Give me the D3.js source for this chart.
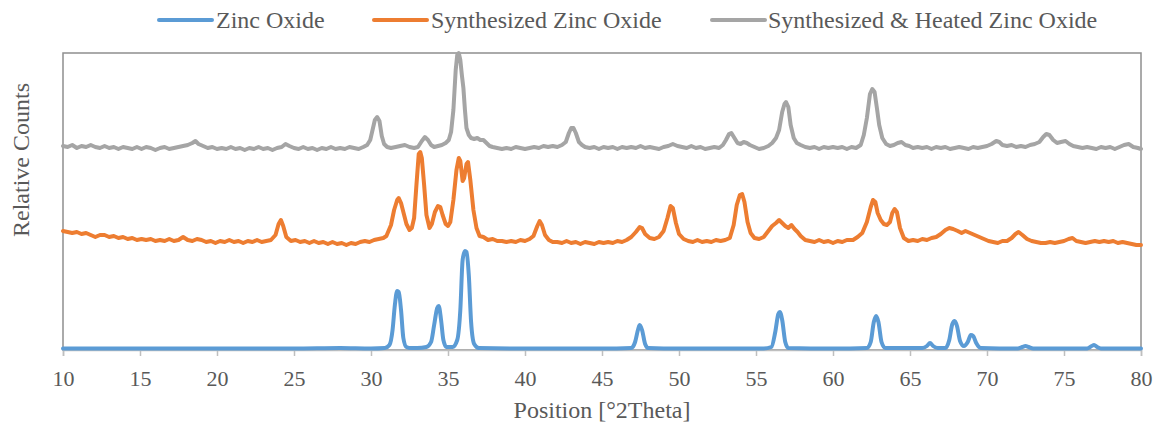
<!DOCTYPE html>
<html>
<head>
<meta charset="utf-8">
<script src="https://cdn.jsdelivr.net/npm/d3@7"></script>
<style>
  html, body { margin: 0; padding: 0; background: #fff; }
  svg { display: block; }
  text { font-family: "Liberation Serif", "Times New Roman", serif; fill: #595959; }
</style>
</head>
<body>
<svg id="chart" width="1160" height="423"></svg>
<script>
// ---- Data ----
const seriesNames = ["Zinc Oxide", "Synthesized Zinc Oxide", "Synthesized & Heated Zinc Oxide"];
const xTicks = [10, 15, 20, 25, 30, 35, 40, 45, 50, 55, 60, 65, 70, 75, 80];
const xDomain = [10, 80];
const yDomain = [0, 297];

// [2Theta, relative counts]
const zincOxide = [
  [10,1.5],[15,1.5],[20,1.5],[25,1.5],[28,2],[30,1.5],[30.9,2],[31.2,5],[31.4,20],[31.55,45],[31.7,59],[31.8,58],[31.95,40],[32.1,12],[32.3,3],[32.6,2],
  [33.0,2],[33.6,3],[33.9,8],[34.1,25],[34.3,42],[34.4,44],[34.55,30],[34.7,10],[34.9,3],[35.3,3],[35.6,10],[35.8,40],[35.95,90],[36.1,99],[36.2,98],
  [36.35,75],[36.5,28],[36.7,6],[37.0,2],[40,1.5],[45,1.5],[46.9,2],[47.15,8],[47.35,21],[47.45,25],[47.6,20],[47.8,6],[48.0,2],[50,1.5],[55.5,1.5],
  [56.0,3],[56.25,18],[56.45,36],[56.55,38],[56.7,30],[56.9,8],[57.1,2],[60,1.5],[62.2,2],[62.45,8],[62.65,28],[62.8,34],[62.95,28],[63.15,8],[63.4,2],
  [65.8,2],[66.1,4],[66.3,7],[66.5,4],[66.8,2],[67.3,2],[67.55,10],[67.75,26],[67.9,29],[68.05,24],[68.25,9],[68.5,4],[68.75,8],[68.95,15],[69.1,14],
  [69.3,7],[69.6,2],[72.0,1.5],[72.3,3],[72.5,4],[72.7,3],[73.0,1.5],[76.5,1.5],[76.8,4],[76.95,5],[77.15,3],[77.4,1.5],[80,1.5]
];

const synthesizedZincOxide = [
  [10,119],[10.3,118],[10.6,117],[10.9,118],[11.2,116],[11.5,117],[11.8,115],[12.1,113],[12.4,115],[12.7,115],[13.0,113],[13.3,114],[13.6,112],[13.9,113],
  [14.2,111],[14.5,112],[14.8,110],[15.1,111],[15.4,110],[15.7,111],[16.0,109],[16.3,110],[16.6,109],[16.9,111],[17.2,109],[17.5,110],[17.8,113],[18.1,110],
  [18.4,109],[18.7,111],[19.0,110],[19.3,108],[19.6,109],[19.9,107],[20.2,109],[20.5,108],[20.8,110],[21.1,108],[21.4,109],[21.7,107],[22.0,109],[22.3,108],
  [22.6,110],[22.9,108],[23.2,109],[23.5,110],[23.8,115],[24.0,126],[24.15,130],[24.3,124],[24.5,113],[24.8,109],[25.1,110],[25.4,108],[25.7,109],[26.0,107],
  [26.3,109],[26.6,107],[26.9,108],[27.2,106],[27.5,108],[27.8,106],[28.1,107],[28.4,105],[28.7,107],[29.0,106],[29.3,108],[29.6,109],[29.9,108],[30.2,110],
  [30.5,111],[30.8,112],[31.0,114],[31.3,125],[31.5,140],[31.7,150],[31.8,152],[31.95,147],[32.1,138],[32.3,126],[32.5,120],[32.65,122],[32.8,132],[32.95,165],
  [33.1,196],[33.2,198],[33.3,192],[33.45,165],[33.6,135],[33.8,122],[33.95,126],[34.15,138],[34.35,144],[34.5,143],[34.65,135],[34.85,126],[35.0,124],
  [35.15,128],[35.35,150],[35.55,180],[35.7,192],[35.8,189],[35.95,169],[36.05,172],[36.2,186],[36.3,188],[36.45,170],[36.65,140],[36.85,122],[37.05,114],
  [37.3,113],[37.6,110],[37.9,111],[38.2,109],[38.5,109],[38.8,108],[39.1,109],[39.4,108],[39.7,110],[40.0,109],[40.3,111],[40.55,114],[40.8,124],[40.95,129],
  [41.1,125],[41.3,115],[41.55,110],[41.8,108],[42.1,108],[42.4,107],[42.7,109],[43.0,107],[43.3,108],[43.6,106],[43.9,108],[44.2,107],[44.5,106],[44.8,108],
  [45.1,107],[45.4,108],[45.7,107],[46.0,109],[46.3,108],[46.6,110],[46.9,113],[47.2,118],[47.45,123],[47.6,122],[47.8,116],[48.1,112],[48.4,111],[48.7,113],
  [49.0,119],[49.25,132],[49.45,144],[49.6,142],[49.8,127],[50.0,116],[50.3,111],[50.6,109],[50.9,108],[51.2,110],[51.5,108],[51.8,109],[52.1,108],[52.4,110],
  [52.7,109],[53.0,110],[53.3,112],[53.55,125],[53.75,145],[53.95,155],[54.1,156],[54.25,148],[54.45,128],[54.65,117],[54.9,112],[55.2,111],[55.5,113],
  [55.8,119],[56.05,124],[56.3,127],[56.5,130],[56.7,127],[56.9,124],[57.1,122],[57.3,125],[57.5,121],[57.7,118],[57.9,114],[58.2,110],[58.5,109],[58.8,108],
  [59.1,110],[59.4,108],[59.7,109],[60.0,107],[60.3,109],[60.6,108],[60.9,110],[61.3,110],[61.6,113],[61.9,117],[62.2,128],[62.45,143],[62.6,150],[62.75,148],
  [62.9,137],[63.1,130],[63.3,126],[63.5,125],[63.7,128],[63.85,137],[64.0,141],[64.15,138],[64.35,122],[64.6,112],[64.9,109],[65.2,110],[65.5,109],
  [65.8,111],[66.1,110],[66.4,112],[66.7,113],[67.0,116],[67.3,120],[67.55,122],[67.8,121],[68.1,119],[68.35,117],[68.6,119],[68.9,117],[69.2,115],
  [69.5,113],[69.8,111],[70.1,109],[70.4,108],[70.7,107],[71.0,109],[71.3,109],[71.6,112],[71.85,116],[72.05,118],[72.3,115],[72.6,111],[72.9,109],
  [73.2,108],[73.5,107],[73.8,107],[74.1,108],[74.4,107],[74.7,108],[75.0,109],[75.3,111],[75.55,112],[75.8,109],[76.1,108],[76.4,107],[76.7,108],
  [77.0,109],[77.3,108],[77.6,109],[77.9,108],[78.2,109],[78.5,107],[78.8,108],[79.1,107],[79.4,106],[79.7,105],[80.0,105]
];

const synthesizedHeatedZincOxide = [
  [10,204],[10.3,203],[10.6,205],[10.9,202],[11.2,204],[11.5,203],[11.8,205],[12.1,203],[12.4,202],[12.7,204],[13.0,202],[13.3,203],[13.6,201],[13.9,203],
  [14.2,202],[14.5,201],[14.8,203],[15.1,201],[15.4,203],[15.7,202],[16.0,200],[16.3,202],[16.6,203],[16.9,201],[17.2,202],[17.5,203],[17.8,204],[18.1,205],
  [18.4,207],[18.6,209],[18.8,206],[19.1,204],[19.4,202],[19.7,203],[20.0,201],[20.3,202],[20.6,201],[20.9,203],[21.2,201],[21.5,202],[21.8,200],[22.1,202],
  [22.4,201],[22.7,203],[23.0,201],[23.3,202],[23.6,200],[23.9,202],[24.2,203],[24.45,206],[24.7,204],[25.0,202],[25.3,201],[25.6,203],[25.9,201],[26.2,202],
  [26.5,200],[26.8,202],[27.1,201],[27.4,203],[27.7,201],[28.0,202],[28.3,201],[28.6,203],[28.9,202],[29.2,201],[29.5,203],[29.75,205],[29.95,210],
  [30.1,220],[30.25,230],[30.4,233],[30.55,229],[30.7,214],[30.85,206],[31.05,203],[31.3,202],[31.6,203],[31.9,204],[32.2,205],[32.5,203],[32.8,202],
  [33.05,203],[33.3,209],[33.5,213],[33.7,210],[33.9,205],[34.1,203],[34.35,204],[34.6,205],[34.85,207],[35.05,210],[35.2,218],[35.35,240],[35.5,280],
  [35.6,295],[35.7,297],[35.8,290],[35.9,275],[36.0,262],[36.1,240],[36.2,222],[36.35,215],[36.5,212],[36.7,211],[36.9,212],[37.1,210],[37.3,210],
  [37.5,207],[37.7,204],[37.9,203],[38.2,202],[38.5,201],[38.8,202],[39.1,201],[39.4,203],[39.7,202],[40.0,201],[40.3,202],[40.6,203],[40.9,202],[41.2,204],
  [41.5,203],[41.8,204],[42.1,203],[42.4,205],[42.65,208],[42.85,217],[43.0,222],[43.15,222],[43.3,217],[43.5,208],[43.7,205],[43.9,203],[44.2,202],
  [44.5,203],[44.8,201],[45.1,203],[45.4,202],[45.7,203],[46.0,201],[46.3,203],[46.6,202],[46.9,203],[47.2,202],[47.5,204],[47.8,202],[48.1,203],[48.4,202],
  [48.7,201],[49.0,203],[49.3,204],[49.6,206],[49.9,204],[50.2,203],[50.5,202],[50.8,204],[51.1,202],[51.4,203],[51.7,201],[52.0,202],[52.3,203],[52.6,202],
  [52.85,205],[53.05,210],[53.25,216],[53.4,217],[53.6,212],[53.8,207],[54.0,206],[54.2,208],[54.4,207],[54.6,205],[54.9,203],[55.2,201],[55.5,202],
  [55.8,204],[56.05,207],[56.3,212],[56.5,220],[56.7,238],[56.85,246],[56.95,248],[57.1,243],[57.25,225],[57.45,212],[57.65,207],[57.9,205],[58.2,203],
  [58.5,202],[58.8,203],[59.1,201],[59.4,203],[59.7,202],[60.0,203],[60.3,202],[60.6,203],[60.9,201],[61.2,203],[61.5,202],[61.8,205],[62.0,215],[62.2,232],
  [62.4,256],[62.55,261],[62.7,258],[62.85,242],[63.0,225],[63.2,212],[63.45,206],[63.7,204],[63.95,205],[64.2,207],[64.45,208],[64.7,205],[64.95,204],
  [65.2,202],[65.5,203],[65.8,202],[66.1,203],[66.4,201],[66.7,203],[67.0,202],[67.3,203],[67.6,201],[67.9,202],[68.2,203],[68.5,202],[68.8,201],[69.1,203],
  [69.4,202],[69.7,203],[70.0,204],[70.3,206],[70.6,209],[70.8,208],[71.0,205],[71.3,204],[71.6,205],[71.9,203],[72.2,204],[72.5,203],[72.8,205],[73.1,206],
  [73.4,208],[73.65,213],[73.85,216],[74.05,215],[74.3,210],[74.55,207],[74.8,208],[75.1,209],[75.35,206],[75.6,204],[75.9,203],[76.2,202],[76.5,203],
  [76.8,202],[77.1,201],[77.4,203],[77.7,202],[78.0,203],[78.3,201],[78.6,203],[78.9,205],[79.2,206],[79.5,203],[79.8,202],[80.0,201]
];

const colors = ["#5B9BD5", "#ED7D31", "#A5A5A5"];
const seriesData = [zincOxide, synthesizedZincOxide, synthesizedHeatedZincOxide];

// ---- Layout ----
const svg = d3.select("#chart");
const margin = { left: 63, right: 1141, top: 53, bottom: 350 };

const x = d3.scaleLinear().domain(xDomain).range([margin.left, margin.right]);
const y = d3.scaleLinear().domain(yDomain).range([margin.bottom, margin.top]);

// Plot area border
svg.append("rect")
  .attr("x", margin.left).attr("y", margin.top)
  .attr("width", margin.right - margin.left).attr("height", margin.bottom - margin.top)
  .attr("fill", "none").attr("stroke", "#8f8f8f").attr("stroke-width", 1.5);

// X axis
const xAxis = d3.axisBottom(x).tickValues(xTicks).tickSize(6).tickPadding(14).tickFormat(d3.format("d"));
const gx = svg.append("g").attr("transform", `translate(0,${margin.bottom})`).call(xAxis);
gx.select(".domain").attr("stroke", "#bfbfbf").attr("stroke-width", 1.5);
gx.selectAll(".tick line").attr("stroke", "#bfbfbf").attr("stroke-width", 1.5);
gx.selectAll(".tick text")
  .attr("font-family", "Liberation Serif, Times New Roman, serif")
  .attr("font-size", 22).attr("fill", "#595959");

// Lines (gray drawn first, then orange, then blue on top)
const lineLinear = d3.line().x(d => x(d[0])).y(d => y(d[1])).curve(d3.curveLinear);
const lineSmooth = d3.line().x(d => x(d[0])).y(d => y(d[1])).curve(d3.curveMonotoneX);

[2, 1, 0].forEach(i => {
  svg.append("path")
    .datum(seriesData[i])
    .attr("fill", "none")
    .attr("stroke", colors[i])
    .attr("stroke-width", 4)
    .attr("stroke-linejoin", "round")
    .attr("stroke-linecap", "round")
    .attr("d", i === 0 ? lineSmooth : lineLinear);
});

// Axis titles
svg.append("text")
  .attr("x", (margin.left + margin.right) / 2).attr("y", 418)
  .attr("text-anchor", "middle").attr("font-size", 24)
  .text("Position [°2Theta]");

svg.append("text")
  .attr("transform", "translate(29,160) rotate(-90)")
  .attr("text-anchor", "middle").attr("font-size", 24)
  .text("Relative Counts");

// Legend
const legendItems = [
  { x1: 159, text: 216 },
  { x1: 374, text: 431 },
  { x1: 712, text: 768 }
];
const legend = svg.append("g");
legendItems.forEach((it, i) => {
  legend.append("line")
    .attr("x1", it.x1).attr("x2", it.x1 + 53)
    .attr("y1", 20).attr("y2", 20)
    .attr("stroke", colors[i]).attr("stroke-width", 4).attr("stroke-linecap", "round");
  legend.append("text")
    .attr("x", it.text).attr("y", 28)
    .attr("font-size", 24)
    .text(seriesNames[i]);
});
</script>
</body>
</html>
